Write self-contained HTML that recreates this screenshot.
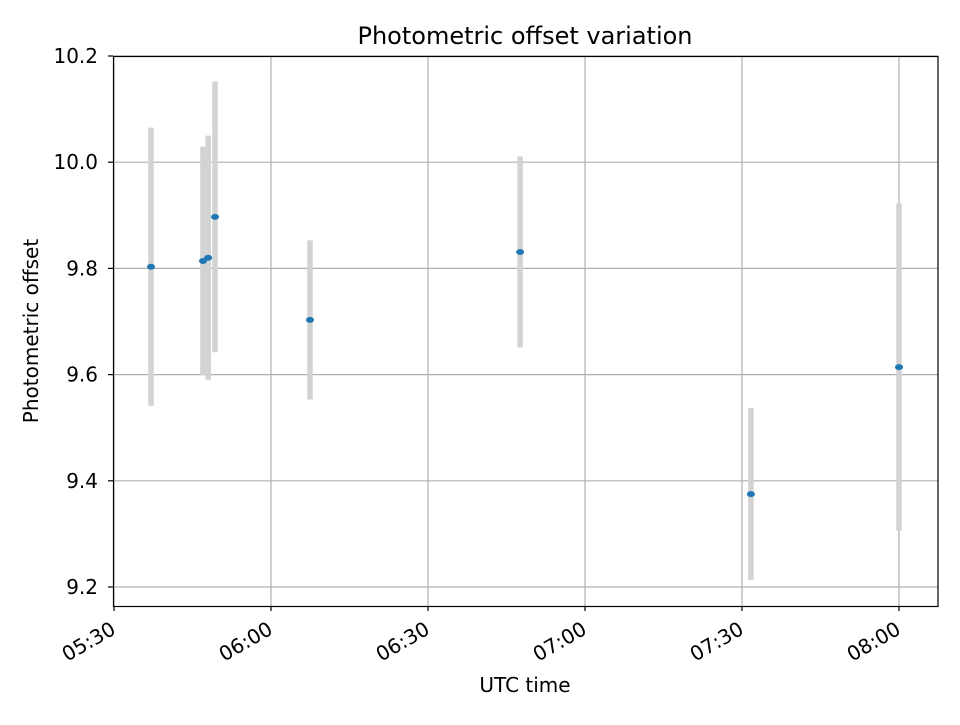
<!DOCTYPE html>
<html><head><meta charset="utf-8"><style>
body{margin:0;background:#fff;font-family:"Liberation Sans","DejaVu Sans",sans-serif}
svg text{font-family:"DejaVu Sans","Liberation Sans",sans-serif;fill:#000}
</style></head><body>
<svg id="chart" width="960" height="720" xmlns="http://www.w3.org/2000/svg">
<rect width="960" height="720" fill="#fff"/>
<g id="grid"></g>
<g id="bars"></g>
<g id="pts"></g>
<rect x="113.5" y="56.5" width="824.5" height="550" fill="none" stroke="#000" stroke-width="1.2"/>
<g id="ticks"></g>
<text x="525" y="44" font-size="24" text-anchor="middle">Photometric offset variation</text>
<text x="525" y="692" font-size="20" text-anchor="middle">UTC time</text>
<text x="0" y="0" font-size="20" text-anchor="middle" transform="translate(38,331) rotate(-90)">Photometric offset</text>
</svg>
<script>
// minutes after 05:30
const times=[7.07,17.0,18.0,19.3,37.45,77.6,121.7,150.0];
const offsets=[9.803,9.814,9.820,9.897,9.703,9.831,9.375,9.614];
const errors=[0.262,0.215,0.23,0.255,0.15,0.18,0.162,0.308];
const yTicks=[9.2,9.4,9.6,9.8,10.0,10.2];
const xTickMin=[0,30,60,90,120,150];
const xTickLabels=["05:30","06:00","06:30","07:00","07:30","08:00"];
const X0=114,XS=157/30,Y0=587,YS=531;
const xs=m=>X0+m*XS, ys=v=>Y0-(v-9.2)*YS;
const NS="http://www.w3.org/2000/svg";
function mk(t,a,p){const e=document.createElementNS(NS,t);for(const k in a)e.setAttribute(k,a[k]);p.appendChild(e);return e;}
const grid=document.getElementById('grid'),ticks=document.getElementById('ticks'),bars=document.getElementById('bars'),pts=document.getElementById('pts');
yTicks.forEach(v=>{const y=ys(v);
 const g=mk('line',{x1:113,x2:938,y1:y,y2:y,stroke:'#b0b0b0','stroke-width':1.2},grid);
 
 
 const t=mk('line',{x1:108,x2:113,y1:y,y2:y,stroke:'#000','stroke-width':1.2},ticks);
 
 
 const l=mk('text',{x:98,y:y+7,'font-size':20,'text-anchor':'end'},ticks);l.textContent=v.toFixed(1);
 
 
});
xTickMin.forEach((m,i)=>{const x=xs(m);
 const g=mk('line',{x1:x,x2:x,y1:56,y2:606,stroke:'#b0b0b0','stroke-width':1.2},grid);
 
 
 const t=mk('line',{x1:x,x2:x,y1:606,y2:611,stroke:'#000','stroke-width':1.2},ticks);
 
 
 const l=mk('text',{x:0,y:0,'font-size':20,'text-anchor':'end',transform:`translate(${x+3},${633}) rotate(-30)`},ticks);l.textContent=xTickLabels[i];
 
 
});
times.forEach((m,i)=>{const x=xs(m);
 const b=mk('line',{x1:x,x2:x,y1:ys(offsets[i]+errors[i]),y2:ys(offsets[i]-errors[i]),stroke:'#d3d3d3','stroke-width':5.5},bars);
 
 
});
times.forEach((m,i)=>{
 const p=mk('ellipse',{cx:xs(m),cy:ys(offsets[i]),rx:4,ry:3,fill:'#1f77b4'},pts);
 
 
});
</script>
</body></html>
